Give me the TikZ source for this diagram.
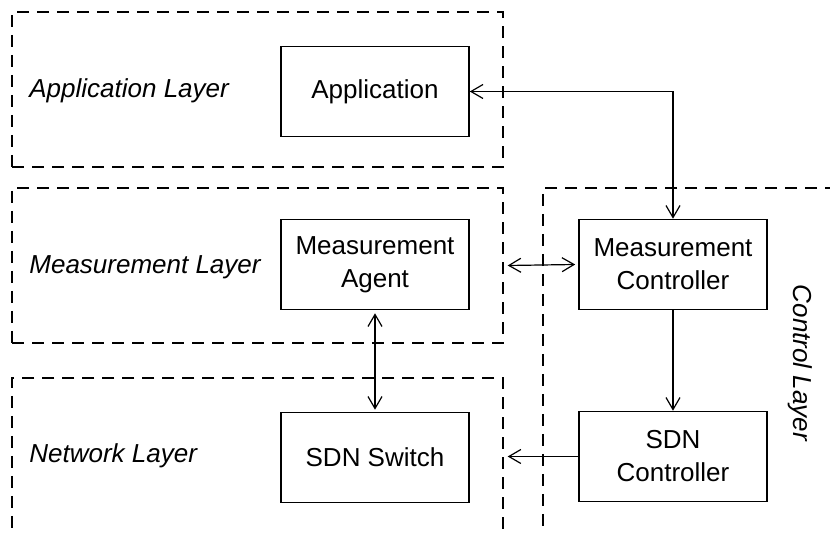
\documentclass[tikz,border=0pt]{standalone}
\usepackage{fontspec}
\setmainfont{Liberation Sans}
\usetikzlibrary{arrows.meta}

\begin{document}
\begin{tikzpicture}[x=0.5pt,y=-0.5pt,
  font=\fontsize{13}{16.5}\selectfont,
  >={Straight Barb[length=6pt, width=7pt, line width=0.6pt]},
  layerbox/.style={draw, line width=0.7pt, dash pattern=on 6pt off 4pt,
    rectangle, inner sep=0pt},
  unitbox/.style={draw, line width=0.8pt, rectangle, inner sep=0pt,
    minimum width=94pt, minimum height=45pt, align=center},
  layername/.style={font=\fontsize{13}{16.5}\selectfont\itshape, anchor=west, inner sep=0pt},
  link/.style={line width=0.6pt}
]
\useasboundingbox (0,0) rectangle (830,533);
\clip (0,0) rectangle (830,533);

% layer frames
\node[layerbox, minimum width=245.5pt, minimum height=77.5pt] (applayer) at (257.5,89.5) {};
\node[layerbox, minimum width=245.5pt, minimum height=77.5pt] (measlayer) at (257.5,265.5) {};
\node[layerbox, minimum width=245.5pt, minimum height=90pt] (netlayer) at (257.5,468) {};
\node[layerbox, minimum width=160pt, minimum height=187pt] (ctrllayer) at (703,375) {};

% layer names
\node[layername] (appname) at (29,91) {Application Layer};
\node[layername] (measname) at (29,267) {Measurement Layer};
\node[layername] (netname) at (29,456) {Network Layer};
\node[font=\fontsize{13}{16.5}\selectfont\itshape, rotate=-90] (ctrlname) at (800,363) {Control Layer};

% functional units
\node[unitbox] (app) at (375,91.5) {Application};
\node[unitbox] (agent) at (375,264.5) {Measurement\\Agent};
\node[unitbox] (switch) at (375,457.5) {SDN Switch};
\node[unitbox] (mctrl) at (673,264.5) {Measurement\\Controller};
\node[unitbox] (sdnctrl) at (673,456.5) {SDN\\Controller};

% connections
\draw[link, <->] (app.east) -| (mctrl.north);
\draw[link, <->] ([xshift=2pt]measlayer.east) -- ([xshift=-1.5pt]mctrl.west);
\draw[link, <->] ([yshift=-1.5pt]agent.south) -- ([yshift=1pt]switch.north);
\draw[link, ->] (mctrl.south) -- (sdnctrl.north);
\draw[link, ->] (sdnctrl.west) -- ([xshift=2pt]sdnctrl.west -| netlayer.east);
\end{tikzpicture}
\end{document}
